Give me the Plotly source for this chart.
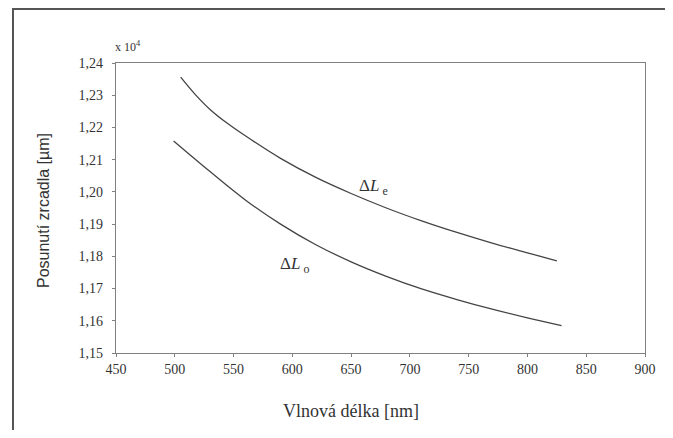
import plotly.graph_objects as go

# Wavelength [nm] and mirror displacement [x 10^4 µm]
wl_e = [505, 517.5, 530, 545, 560, 590, 620, 650, 680, 710, 740, 770, 800, 825]
dl_e = [1.2356, 1.2302, 1.2256, 1.2212, 1.2174, 1.2104, 1.2045, 1.1995, 1.1950, 1.1910, 1.1874, 1.1841, 1.1811, 1.1786]

wl_o = [499, 530, 560, 590, 620, 650, 680, 710, 740, 770, 800, 829]
dl_o = [1.2158, 1.2063, 1.1975, 1.1900, 1.1836, 1.1783, 1.1738, 1.1699, 1.1666, 1.1636, 1.1609, 1.1585]

x_ticks = [450, 500, 550, 600, 650, 700, 750, 800, 850, 900]
y_ticks = [1.15, 1.16, 1.17, 1.18, 1.19, 1.20, 1.21, 1.22, 1.23, 1.24]

# page body adds an 8px offset
OFF = 8
W, H = 673 - OFF, 438 - 2 * OFF
L, R, T = 108, 28, 55
pw, ph = 529, 290
B = H - T - ph

def px(xw):
    return (xw - OFF - L) / pw

def py(yw):
    return (H - B - (yw - OFF)) / ph

serif = "Liberation Serif"
sans = "Liberation Sans"
txt = "#333333"
line_col = "#444444"

fig = go.Figure()
fig.add_trace(go.Scatter(x=wl_e, y=dl_e, mode="lines", line=dict(color=line_col, width=1.3, shape="spline"), showlegend=False))
fig.add_trace(go.Scatter(x=wl_o, y=dl_o, mode="lines", line=dict(color=line_col, width=1.3, shape="spline"), showlegend=False))

axis_common = dict(showgrid=False, zeroline=False, showline=True, linecolor="#808080", linewidth=1.2,
                   mirror=True, ticks="outside", ticklen=3, tickcolor="#808080",
                   tickfont=dict(family=serif, size=14, color=txt))

fig.update_xaxes(range=[450, 900], tickvals=x_ticks, ticktext=[str(v) for v in x_ticks], **axis_common)
fig.update_yaxes(range=[1.15, 1.24], tickvals=y_ticks, ticktext=[f"{v:.2f}".replace(".", ",") for v in y_ticks],
                 ticklabelstandoff=6, **axis_common)

annotations = [
    dict(x=px(351), y=py(411), xref="paper", yref="paper", text="Vlnová délka [nm]", showarrow=False,
         font=dict(family=serif, size=18, color=txt), xanchor="center", yanchor="middle"),
    dict(x=px(43), y=py(211), xref="paper", yref="paper", text="Posunutí zrcadla [µm]", showarrow=False, textangle=-90,
         font=dict(family=sans, size=16, color=txt), xanchor="center", yanchor="middle"),
    dict(x=px(128), y=py(47), xref="paper", yref="paper", text="x 10<sup>4</sup>", showarrow=False,
         font=dict(family=serif, size=12, color=txt), xanchor="center", yanchor="middle"),
    dict(x=px(373), y=py(187), xref="paper", yref="paper", text="Δ<i>L</i><sub> e</sub>", showarrow=False,
         font=dict(family=serif, size=17, color=txt), xanchor="center", yanchor="middle"),
    dict(x=px(294), y=py(265), xref="paper", yref="paper", text="Δ<i>L</i><sub> o</sub>", showarrow=False,
         font=dict(family=serif, size=17, color=txt), xanchor="center", yanchor="middle"),
]

fig.update_layout(
    width=W, height=H,
    margin=dict(l=L, r=R, t=T, b=B),
    paper_bgcolor="white", plot_bgcolor="white",
    annotations=annotations,
    shapes=[dict(type="rect", xref="paper", yref="paper", x0=px(13), x1=px(671), y0=py(470), y1=py(9),
                 line=dict(color="#555555", width=2), layer="above")],
)

fig.write_html("out.html")
